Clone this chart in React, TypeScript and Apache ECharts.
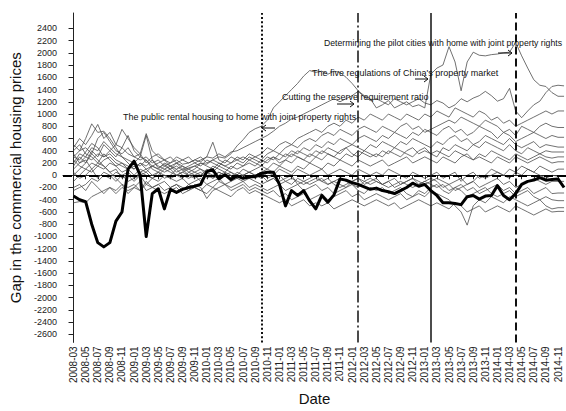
import React, { useEffect, useRef } from "react";
import * as echarts from "echarts";

// x tick labels (every second month, index = 2*k months after 2008-03)
const tickLabels = [
  "2008-03", "2008-05", "2008-07", "2008-09", "2008-11",
  "2009-01", "2009-03", "2009-05", "2009-07", "2009-09", "2009-11",
  "2010-01", "2010-03", "2010-05", "2010-07", "2010-09", "2010-11",
  "2011-01", "2011-03", "2011-05", "2011-07", "2011-09", "2011-11",
  "2012-01", "2012-03", "2012-05", "2012-07", "2012-09", "2012-11",
  "2013-01", "2013-03", "2013-05", "2013-07", "2013-09", "2013-11",
  "2014-01", "2014-03", "2014-05", "2014-07", "2014-09", "2014-11",
];

const yTicks = [
  -2600, -2400, -2200, -2000, -1800, -1600, -1400, -1200, -1000, -800, -600, -400, -200,
  0, 200, 400, 600, 800, 1000, 1200, 1400, 1600, 1800, 2000, 2200, 2400,
];

// monthly series, 2008-03 .. 2014-12
const average = [
  -340, -400, -430, -800, -1100, -1170, -1100, -750, -600, 100,
  230, 0, -1000, -300, -220, -550, -230, -280, -230, -200,
  -180, -150, 60, 90, -60, 10, -70, -10, -50, -30,
  -20, 30, 50, 50, -150, -500, -250, -330, -250, -420,
  -550, -330, -440, -320, -60, -80, -120, -150, -190, -230,
  -210, -250, -270, -300, -250, -200, -130, -180, -150, -250,
  -330, -450, -450, -460, -480, -350, -330, -390, -340, -330,
  -170, -330, -400, -300, -150, -100, -80, -40, -80, -70,
  -60, -200,
];

const city01 = [
  300, 250, 380, 520, 450, 300, 350, 250, 200, 150,
  100, 200, 150, 250, 120, 180, 100, 150, 80, 120,
  150, 200, 180, 250, 300, 280, 350, 480, 580, 700,
  760, 800, 900, 1100, 1200, 1300, 1400, 1500, 1620, 1710,
  1680, 1700, 1650, 1700, 1680, 1600, 1500, 1380, 1300, 1250,
  1100, 1150, 1220, 1100, 1150, 1200, 1120, 1150, 1100, 1650,
  1750, 1800, 2100, 1850, 1380, 1850, 2010, 1960, 1950, 1970,
  1980, 2000, 2010, 2170, 1950, 1750, 1560, 1470, 1450, 1350,
  1290, 1290,
];
const city02 = [
  450, 600, 500, 650, 830, 600, 700, 500, 450, 350,
  300, 250, 300, 200, 250, 150, 200, 250, 180, 200,
  250, 220, 300, 280, 350, 300, 380, 400, 450, 500,
  550, 600, 650, 720, 800, 850, 920, 950, 1000, 1050,
  1100, 1150, 1200, 1250, 1200, 1250, 1300, 1370, 1280, 1220,
  1250, 1200, 1150, 1250, 1200, 1150, 1200, 1250, 1180, 1150,
  1220, 1180, 1100, 1150, 1250, 1200, 1260, 1300, 1370, 1300,
  1210, 1250, 1420, 1050, 940, 1050, 1150, 1210, 1350, 1450,
  1470, 1460,
];
const city03 = [
  200, 350, 300, 450, 400, 550, 450, 350, 300, 250,
  200, 300, 250, 150, 200, 250, 150, 200, 100, 150,
  200, 150, 250, 200, 150, 250, 200, 300, 250, 350,
  300, 350, 450, 400, 500, 550, 500, 600, 650, 700,
  750, 700, 800, 850, 800, 900, 850, 950, 900, 1000,
  950, 900, 1000, 950, 900, 1000, 950, 900, 1000, 950,
  1050, 1000, 950, 1100, 1050, 1000, 950, 1050, 1000, 900,
  950, 850, 900, 800, 850, 900, 950, 1000, 1050, 1000,
  1050, 1050,
];
const city04 = [
  100, 200, 300, 250, 350, 300, 400, 500, 750, 600,
  450, 350, 680, 400, 300, 250, 200, 300, 250, 200,
  250, 300, 200, 250, 200, 150, 200, 250, 300, 250,
  300, 250, 350, 400, 350, 450, 500, 450, 550, 600,
  550, 650, 700, 650, 750, 700, 650, 750, 800, 750,
  700, 800, 750, 700, 800, 850, 750, 800, 700, 750,
  800, 850, 900, 850, 950, 900, 850, 800, 900, 850,
  800, 700, 750, 650, 800, 750, 700, 800, 850, 800,
  780, 780,
];
const city05 = [
  500, 400, 450, 350, 600, 700, 550, 400, 350, 450,
  300, 350, 200, 300, 350, 250, 300, 200, 250, 300,
  200, 250, 300, 540, 250, 200, 300, 250, 200, 300,
  250, 200, 300, 250, 350, 300, 400, 350, 450, 400,
  500, 450, 550, 500, 600, 550, 500, 600, 650, 600,
  550, 650, 600, 700, 650, 600, 700, 650, 750, 700,
  650, 750, 800, 700, 750, 650, 700, 800, 750, 700,
  600, 700, 650, 550, 600, 650, 700, 650, 600, 650,
  620, 620,
];
const city06 = [
  250, 150, 100, 200, 150, 250, 300, 200, 150, 100,
  150, 50, 100, 150, 100, 200, 150, 100, 150, 100,
  150, 100, 50, 150, 100, 50, 150, 100, 150, 200,
  150, 250, 200, 300, 250, 350, 300, 400, 350, 300,
  400, 350, 450, 400, 350, 450, 500, 450, 400, 500,
  450, 550, 500, 450, 550, 500, 600, 550, 500, 450,
  550, 500, 600, 650, 550, 600, 500, 550, 650, 600,
  550, 500, 600, 500, 450, 500, 550, 450, 500, 480,
  460, 460,
];
const city07 = [
  -100, 0, 100, 50, 150, 100, 200, 150, 50, 100,
  0, 100, 50, 150, 100, 50, 100, 0, 50, 100,
  50, 0, 100, 50, 150, 100, 50, 0, 100, 50,
  100, 150, 100, 200, 150, 250, 200, 300, 250, 200,
  300, 250, 350, 300, 250, 350, 300, 400, 350, 300,
  350, 300, 400, 350, 300, 400, 450, 350, 400, 350,
  300, 450, 400, 500, 450, 400, 500, 450, 550, 500,
  450, 400, 500, 400, 350, 450, 400, 350, 400, 380,
  380, 380,
];
const city08 = [
  50, -50, 0, 100, -50, 50, 0, -100, 0, 50,
  -50, 0, 50, -50, 0, 100, 50, 0, -50, 50,
  0, 50, -50, 0, 50, 0, -50, 50, 0, 50,
  0, 50, 100, 50, 150, 100, 50, 150, 100, 200,
  150, 100, 200, 150, 250, 200, 150, 250, 200, 150,
  200, 250, 150, 200, 250, 300, 200, 250, 300, 250,
  200, 300, 250, 200, 300, 350, 250, 300, 250, 200,
  300, 250, 200, 300, 250, 200, 250, 300, 250, 200,
  220, 220,
];
const city09 = [
  -250, -200, -150, -50, -100, 0, -50, 50, 0, -100,
  -50, 50, 0, -50, 50, 0, -50, 0, 50, 0,
  -50, 0, 50, -50, 0, 50, 0, -50, 0, 50,
  0, -50, 50, 0, 100, 50, 0, 100, 50, 0,
  50, 100, 0, 50, 100, 50, 0, 100, 50, 0,
  50, 0, 100, 50, 0, -50, 50, 0, -50, 0,
  50, -50, 0, 50, -100, 0, 50, -50, 0, 100,
  50, 0, -50, 50, 0, 100, 50, 0, -50, 0,
  -15, -15,
];
const city10 = [
  350, 200, 250, 100, 200, 150, 50, 100, -50, 0,
  -100, 0, -150, -50, -100, 0, -50, -100, -50, -150,
  -100, -50, -150, -100, -50, -150, -100, -50, -100, -50,
  -100, -150, -100, -50, -150, -100, -50, -100, -150, -100,
  -50, -100, -150, -100, -50, -100, -150, -200, -100, -150,
  -100, -150, -200, -150, -100, -150, -200, -150, -100, -150,
  -200, -150, -250, -200, -150, -250, -200, -300, -250, -200,
  -150, -250, -200, -300, -250, -200, -300, -250, -200, -300,
  -290, -290,
];
const city11 = [
  -200, -150, -250, -100, -200, -300, -200, -250, -150, -200,
  -150, -250, -100, -200, -150, -100, -200, -150, -250, -150,
  -200, -250, -150, -200, -100, -150, -200, -150, -100, -200,
  -150, -200, -250, -200, -150, -250, -200, -150, -250, -200,
  -150, -250, -200, -300, -250, -200, -150, -250, -300, -200,
  -250, -200, -300, -250, -200, -300, -350, -250, -300, -200,
  -150, -250, -300, -200, -250, -350, -300, -250, -200, -300,
  -350, -300, -250, -350, -300, -250, -350, -400, -350, -400,
  -415, -415,
];
const city12 = [
  -450, -430, -450, -350, -300, -250, -200, -300, -200, -250,
  -200, -100, -250, -200, -150, -250, -200, -150, -200, -250,
  -150, -200, -380, -250, -200, -150, -250, -200, -150, -250,
  -200, -250, -300, -250, -350, -300, -400, -350, -300, -400,
  -350, -300, -400, -350, -300, -250, -350, -300, -400, -350,
  -300, -350, -400, -350, -300, -400, -350, -300, -350, -250,
  -300, -350, -400, -500, -600, -815, -500, -400, -450, -350,
  -400, -450, -350, -400, -450, -500, -450, -400, -500, -550,
  -530, -530,
];
const city13 = [
  150, 300, 200, 350, 250, 150, 50, -50, -150, -300,
  -200, -250, -150, -200, -250, -300, -250, -200, -300, -250,
  -200, -250, -300, -200, -250, -300, -350, -250, -200, -300,
  -250, -300, -350, -400, -450, -400, -500, -450, -400, -500,
  -450, -500, -450, -550, -500, -450, -400, -450, -500, -450,
  -400, -450, -500, -450, -550, -500, -450, -400, -450, -500,
  -450, -500, -550, -450, -500, -600, -550, -500, -600, -550,
  -500, -550, -600, -500, -550, -600, -650, -600, -550, -600,
  -590, -590,
];
const city14 = [
  0, 100, 200, 400, 300, 500, 400, 300, 450, 650,
  400, 300, 650, 250, 150, 100, 150, 50, 100, 0,
  50, 100, 0, -50, 50, 0, -100, 0, -50, 0,
  -50, 0, -100, -50, 0, -100, -150, -50, -100, -150,
  -100, -50, -150, -100, -150, -200, -100, -50, -100, -50,
  -100, -150, -100, -50, -150, -100, -50, -100, -150, -100,
  -50, -100, -150, -100, -50, -150, -100, -200, -150, -100,
  -50, -150, -100, -200, -150, -100, -50, -100, -150, -100,
  -100, -100,
];
const city15 = [
  400, 500, 350, 300, 200, 350, 250, 150, 200, 100,
  200, 150, 250, 100, 50, 150, 100, 200, 150, 50,
  100, 200, 150, 100, 200, 150, 100, 200, 150, 250,
  200, 150, 250, 300, 200, 250, 350, 300, 250, 350,
  300, 400, 350, 300, 400, 450, 350, 300, 400, 350,
  300, 400, 350, 450, 400, 350, 300, 400, 450, 350,
  400, 350, 300, 400, 350, 300, 250, 350, 300, 400,
  350, 300, 250, 350, 300, 250, 300, 350, 300, 280,
  300, 300,
];
const city16 = [
  300, 400, 600, 840, 700, 720, 600, 450, 300, 200,
  100, 200, 100, 0, 50, -50, 0, 100, 0, -50,
  0, -100, 50, 0, -50, 0, 50, -50, 0, -50,
  0, 50, -50, 0, -100, -50, 0, -150, -100, -50,
  0, -100, -50, -150, -200, -150, -100, -50, -150, -100,
  -50, -150, -100, -200, -150, -100, -50, -150, -100, -50,
  -100, -200, -150, -250, -200, -150, -100, 0, -50, 0,
  50, 0, 100, 50, 150, 100, 50, 150, 100, 50,
  100, 100,
];

const cities = [
  city01, city02, city03, city04, city05, city06, city07, city08,
  city09, city10, city11, city12, city13, city14, city15, city16,
];

// policy dates (vertical reference lines)
const policyDates = ["2010-10", "2012-02", "2013-02", "2014-04"];
const policyStyles = [
  { type: [2, 2.2], width: 2 },
  { type: [12, 3, 2, 3], width: 1.5 },
  { type: "solid", width: 1.5 },
  { type: [8, 4], width: 2 },
];

const annotations = [
  "The public rental housing to home with joint property rights",
  "Cutting the reserve requirement ratio",
  "The five regulations of China's property market",
  "Determining the pilot cities with home with joint property rights",
];

const monthIndex = (s: string) => {
  const [y, m] = s.split("-").map(Number);
  return (y - 2008) * 12 + (m - 3);
};

const FONT = "'Liberation Sans', Arial, Helvetica, sans-serif";

export default function App() {
  const ref = useRef<HTMLDivElement>(null);
  useEffect(() => {
    const chart = echarts.init(ref.current!, null, { renderer: "svg" });
    const tickIdx = tickLabels.map((l) => monthIndex(l));
    const labelMap: Record<number, string> = {};
    tickLabels.forEach((l, k) => (labelMap[tickIdx[k]] = l));

    const series: any[] = cities.map((d, n) => ({
      type: "line",
      name: "city" + (n + 1),
      data: d.map((v, i) => [i, v]),
      symbol: "none",
      silent: true,
      z: 2,
      lineStyle: { color: "#4d4d4d", width: 0.8 },
    }));
    series.push({
      type: "line",
      name: "average",
      data: average.map((v, i) => [i, v]),
      symbol: "none",
      silent: true,
      z: 5,
      lineStyle: { color: "#000", width: 3, join: "round" },
      markLine: {
        silent: true,
        symbol: ["none", "none"],
        label: { show: false },
        data: [
          { yAxis: 0, lineStyle: { color: "#000", type: [9, 4], width: 2 } },
          ...policyDates.map((d, k) => ({
            xAxis: monthIndex(d),
            lineStyle: { color: "#111", ...policyStyles[k] },
          })),
        ],
      },
    });

    const arrows = [
      { x1: 275, x2: 262, y: 128 },
      { x1: 337, x2: 354, y: 104 },
      { x1: 415, x2: 428, y: 79 },
      { x1: 498, x2: 512, y: 53 },
    ];
    const textPos = [
      { x: 123, y: 117, size: 9 },
      { x: 282, y: 97, size: 9 },
      { x: 312, y: 73, size: 9 },
      { x: 324, y: 43, size: 8.7 },
    ];
    const graphic: any[] = [];
    annotations.forEach((t, k) => {
      graphic.push({
        type: "text",
        x: textPos[k].x,
        y: textPos[k].y,
        z: 10,
        style: {
          text: t,
          fontSize: textPos[k].size,
          fontFamily: FONT,
          fill: "#111",
          verticalAlign: "middle",
        },
      });
      const a = arrows[k];
      const dir = a.x2 > a.x1 ? 1 : -1;
      graphic.push({
        type: "line",
        z: 10,
        shape: { x1: a.x1, y1: a.y, x2: a.x2, y2: a.y },
        style: { stroke: "#111", lineWidth: 1 },
      });
      graphic.push({
        type: "polyline",
        z: 10,
        shape: { points: [[a.x2 - dir * 4, a.y - 3], [a.x2, a.y], [a.x2 - dir * 4, a.y + 3]] },
        style: { stroke: "#111", lineWidth: 1, fill: "none" },
      });
    });

    chart.setOption({
      animation: false,
      textStyle: { fontFamily: FONT },
      grid: { left: 63, right: 0, top: 13, bottom: 61, containLabel: false },
      xAxis: {
        type: "value",
        min: -1.74,
        max: 81.32,
        name: "Date",
        nameLocation: "middle",
        nameGap: 43,
        nameTextStyle: { fontSize: 15, color: "#111", fontFamily: FONT },
        axisLine: { show: true, lineStyle: { color: "#222", width: 1 } },
        axisTick: { show: true, length: 4, customValues: tickIdx, lineStyle: { color: "#222" } },
        axisLabel: {
          customValues: tickIdx,
          rotate: 90,
          fontSize: 10,
          color: "#222",
          margin: 4,
          formatter: (v: number) => labelMap[Math.round(v)] ?? "",
        },
        splitLine: { show: false },
      },
      yAxis: {
        type: "value",
        min: -2730,
        max: 2650,
        name: "Gap in the commercial housing prices",
        nameLocation: "middle",
        nameGap: 36,
        nameTextStyle: { fontSize: 15, color: "#111", fontFamily: FONT },
        axisLine: { show: true, lineStyle: { color: "#222", width: 1 } },
        axisTick: { show: true, length: 5, customValues: yTicks, lineStyle: { color: "#222" } },
        axisLabel: {
          customValues: yTicks,
          fontSize: 9,
          color: "#222",
          margin: 6,
          formatter: (v: number) => String(v),
        },
        splitLine: { show: false },
      },
      series,
      graphic,
    });
    return () => chart.dispose();
  }, []);
  return (
    <div
      ref={ref}
      style={{ position: "fixed", left: 0, top: 0, width: 566, height: 411, background: "#fff" }}
    />
  );
}
